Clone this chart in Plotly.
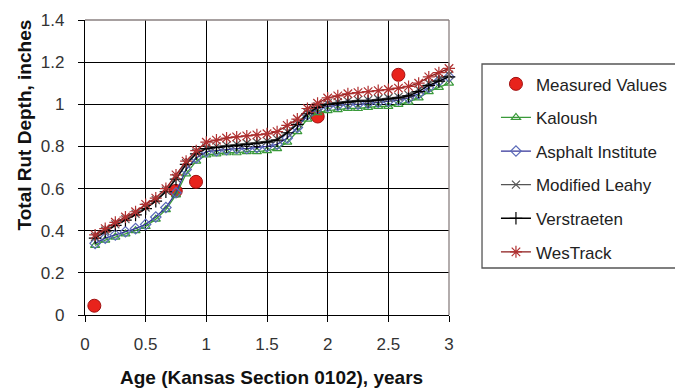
import plotly.graph_objects as go

# ---------------- data ----------------
months = list(range(1, 37))
age_years = [m / 12 for m in months]

measured_age = [0.077, 0.748, 0.915, 1.918, 2.583]
measured_rut = [0.044, 0.589, 0.632, 0.942, 1.140]

kaloush = [0.33, 0.355, 0.37, 0.385, 0.40, 0.42, 0.455, 0.50, 0.57, 0.67, 0.73, 0.76,
           0.765, 0.77, 0.77, 0.775, 0.775, 0.78, 0.79, 0.82, 0.87, 0.93, 0.96, 0.97,
           0.975, 0.98, 0.98, 0.985, 0.99, 0.99, 1.00, 1.01, 1.03, 1.06, 1.08, 1.10]
asphalt_institute = [0.34, 0.365, 0.38, 0.395, 0.41, 0.43, 0.465, 0.51, 0.58, 0.69, 0.745, 0.775,
                     0.78, 0.785, 0.79, 0.79, 0.795, 0.80, 0.81, 0.84, 0.89, 0.95, 0.98, 0.99,
                     0.995, 1.0, 1.0, 1.005, 1.01, 1.015, 1.02, 1.03, 1.05, 1.08, 1.11, 1.13]
modified_leahy = [0.37, 0.40, 0.43, 0.455, 0.48, 0.51, 0.545, 0.59, 0.65, 0.72, 0.77, 0.795,
                  0.80, 0.805, 0.81, 0.815, 0.82, 0.825, 0.835, 0.87, 0.91, 0.96, 0.99, 1.005,
                  1.01, 1.015, 1.02, 1.02, 1.025, 1.03, 1.035, 1.045, 1.07, 1.10, 1.12, 1.14]
verstraeten = [0.365, 0.395, 0.425, 0.45, 0.475, 0.505, 0.54, 0.585, 0.645, 0.715, 0.765, 0.79,
               0.795, 0.80, 0.805, 0.81, 0.815, 0.82, 0.83, 0.865, 0.905, 0.955, 0.985, 1.0,
               1.005, 1.01, 1.015, 1.015, 1.02, 1.025, 1.03, 1.04, 1.06, 1.09, 1.11, 1.13]
westrack = [0.38, 0.41, 0.44, 0.465, 0.49, 0.525, 0.555, 0.60, 0.665, 0.73, 0.78, 0.82,
            0.83, 0.84, 0.845, 0.85, 0.855, 0.86, 0.87, 0.90, 0.93, 0.98, 1.005, 1.03,
            1.04, 1.05, 1.055, 1.06, 1.065, 1.07, 1.077, 1.085, 1.10, 1.13, 1.15, 1.17]

x_ticks = [0, 0.5, 1, 1.5, 2, 2.5, 3]
x_tick_labels = ["0", "0.5", "1", "1.5", "2", "2.5", "3"]
y_ticks = [0, 0.2, 0.4, 0.6, 0.8, 1, 1.2, 1.4]
y_tick_labels = ["0", "0.2", "0.4", "0.6", "0.8", "1", "1.2", "1.4"]

FONT = "Liberation Sans, Arial, sans-serif"

fig = go.Figure()

fig.add_trace(go.Scatter(
    x=measured_age, y=measured_rut, mode="markers", name="Measured Values",
    legendgroup="g0", cliponaxis=False,
    marker=dict(symbol="circle", size=13, color="#e8231c", line=dict(color="#a01010", width=1)),
))

model_series = [
    ("Kaloush", kaloush, "#3a9a3a", "#3a9a3a", "triangle-up-open", 8),
    ("Asphalt Institute", asphalt_institute, "#333399", "#5a6ab8", "diamond-open", 8),
    ("Modified Leahy", modified_leahy, "#555555", "#555555", "x-thin-open", 8),
    ("Verstraeten", verstraeten, "#000000", "#000000", "cross-thin-open", 9),
    ("WesTrack", westrack, "#8b1a1a", "#b03030", "asterisk-open", 10),
]
for i, (name, vals, lc, mc, sym, sz) in enumerate(model_series):
    fig.add_trace(go.Scatter(
        x=age_years, y=vals, mode="lines+markers", name=name,
        legendgroup=f"g{i+1}", cliponaxis=False,
        line=dict(color=lc, width=1.3),
        marker=dict(symbol=sym, size=sz, color=mc, line=dict(color=mc, width=1.2)),
    ))

axis_common = dict(
    showgrid=True, gridcolor="#000000", gridwidth=1,
    showline=True, linecolor="#000000", linewidth=1.3,
    ticks="outside", tickcolor="#000000", ticklen=6, tickwidth=1,
    tickfont=dict(family=FONT, size=17, color="#333333"),
    zeroline=False,
)

fig.update_xaxes(range=[0, 3], tickvals=x_ticks, ticktext=x_tick_labels,
                 ticklabelstandoff=7, **axis_common)
fig.update_yaxes(range=[0, 1.4], tickvals=y_ticks, ticktext=y_tick_labels,
                 ticklabelstandoff=10, **axis_common)

fig.update_layout(
    width=675, height=389,
    margin=dict(l=85, r=226, t=20, b=74, autoexpand=False),
    paper_bgcolor="white", plot_bgcolor="white",
    font=dict(family=FONT, size=16, color="#222222"),
    showlegend=True,
    legend=dict(
        x=1.129, y=0.843, xanchor="left", yanchor="top",
        bgcolor="rgba(0,0,0,0)", borderwidth=0,
        font=dict(family=FONT, size=17, color="#222222"),
        tracegroupgap=8.5,
    ),
    shapes=[
        # grey frame on top and right
        dict(type="line", xref="paper", yref="paper", x0=0, x1=1, y0=1, y1=1,
             line=dict(color="#8a8080", width=1.3), layer="above"),
        dict(type="line", xref="paper", yref="paper", x0=1, x1=1, y0=0, y1=1,
             line=dict(color="#8a8080", width=1.3), layer="above"),
        # legend box
        dict(type="rect", xref="paper", yref="paper", x0=1.0907, x1=1.70, y0=0.1593, y1=0.8508,
             line=dict(color="#555555", width=1.3), fillcolor="rgba(0,0,0,0)"),
    ],
    annotations=[
        dict(text="<b>Total Rut Depth, inches</b>", textangle=-90, xref="paper", yref="paper",
             x=(23.5 - 85) / 364, y=(315 - 125) / 295, xanchor="center", yanchor="middle",
             showarrow=False, font=dict(family=FONT, size=19, color="#111111")),
        dict(text="<b>Age (Kansas Section 0102), years</b>", xref="paper", yref="paper",
             x=(271.5 - 85) / 364, y=(315 - 377) / 295, xanchor="center", yanchor="middle",
             showarrow=False, font=dict(family=FONT, size=19, color="#111111")),
    ],
)

fig.write_html("out.html", config={"displayModeBar": False},
               post_script="document.body.style.margin='0';")
